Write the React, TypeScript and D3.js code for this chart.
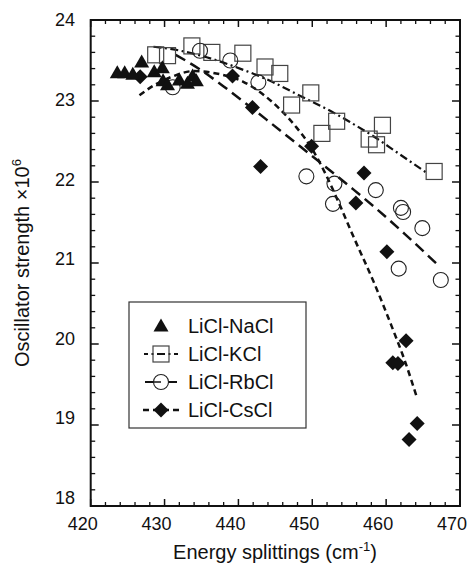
import React from 'react';
import * as d3 from 'd3';

type P = [number, number];

const seriesNames = ['LiCl-NaCl', 'LiCl-KCl', 'LiCl-RbCl', 'LiCl-CsCl'];

const naclPoints: P[] = [
  [423.6, 23.35], [424.6, 23.35], [425.7, 23.33], [426.9, 23.48], [428.6, 23.36],
  [429.7, 23.41], [429.8, 23.25], [430.4, 23.2], [432.0, 23.26], [433.1, 23.22],
  [433.8, 23.31], [434.3, 23.25],
];

const kclPoints: P[] = [
  [428.8, 23.57], [430.4, 23.56], [433.7, 23.68], [436.4, 23.6], [440.6, 23.59],
  [443.6, 23.42], [445.6, 23.34], [447.2, 22.95], [449.8, 23.1], [451.3, 22.6],
  [453.3, 22.75], [457.7, 22.53], [458.7, 22.46], [459.5, 22.7], [466.5, 22.13],
];

const rbclPoints: P[] = [
  [431.1, 23.17], [434.8, 23.62], [438.9, 23.5], [442.7, 23.23], [449.2, 22.07],
  [453.0, 21.98], [452.8, 21.73], [458.6, 21.9], [462.0, 21.68], [462.3, 21.63],
  [464.9, 21.43], [461.7, 20.93], [467.4, 20.79],
];

const csclPoints: P[] = [
  [426.7, 23.3], [439.2, 23.31], [441.9, 22.92], [443.0, 22.19], [449.9, 22.44],
  [457.0, 22.11], [455.9, 21.74], [460.1, 21.14], [462.7, 20.04], [460.9, 19.77],
  [461.6, 19.76], [464.2, 19.02], [463.1, 18.82],
];

const kclFit: P[] = [
  [428.5, 23.67], [431, 23.64], [435.7, 23.54], [440.2, 23.4], [444.5, 23.24],
  [448, 23.08], [452.6, 22.87], [455.1, 22.74], [458.7, 22.54], [461.4, 22.37],
  [465.7, 22.1],
];

const rbclFit: P[] = [
  [431.5, 23.57], [434.8, 23.39], [438, 23.18], [441, 22.97], [443.8, 22.77],
  [447.8, 22.48], [451.9, 22.18], [455, 21.95], [458.3, 21.7], [462.5, 21.36],
  [467.3, 20.95],
];

const csclFit: P[] = [
  [426.6, 23.07], [428.5, 23.19], [431, 23.3], [434, 23.37], [437, 23.34],
  [440.6, 23.24], [443.5, 23.07], [445.6, 22.9], [447.8, 22.68], [449.9, 22.42],
  [451.9, 22.08], [453.8, 21.7], [455.6, 21.32], [458.3, 20.77], [460.7, 20.23],
  [462.5, 19.8], [464.2, 19.33],
];

const xTicks = [420, 430, 440, 450, 460, 470];
const yTicks = [18, 19, 20, 21, 22, 23, 24];

const FONT = '"Liberation Sans", Arial, Helvetica, sans-serif';

const DASH_KCL = '8,3.5,2,3.5';
const DASH_RBCL = '11,6';
const DASH_CSCL = '6,4';

function tri(cx: number, cy: number) {
  return `M${cx},${cy - 7.5}L${cx + 7.5},${cy + 5.5}L${cx - 7.5},${cy + 5.5}Z`;
}
function dia(cx: number, cy: number) {
  return `M${cx},${cy - 7.5}L${cx + 7.5},${cy}L${cx},${cy + 7.5}L${cx - 7.5},${cy}Z`;
}

export default function App() {
  const W = 470;
  const H = 568;
  const left = 90.7, right = 460, top = 20, bottom = 506;
  const x = d3.scaleLinear().domain([420, 470]).range([left, right]);
  const y = d3.scaleLinear().domain([18, 24]).range([bottom, top]);

  const line = d3.line<P>().x(d => x(d[0])).y(d => y(d[1])).curve(d3.curveMonotoneX);

  const xMinor = d3.range(420, 470.001, 2).filter(v => !xTicks.includes(v));
  const yMinor = d3.range(0, 31).map(i => +(18 + i * 0.2).toFixed(2)).filter(v => !yTicks.includes(v));

  const tickStroke = '#111';
  const legRows = [326, 354, 382, 410];
  const legSymX = 161;

  return (
    <svg width={W} height={H} style={{ position: 'absolute', left: 0, top: 0, background: '#fff' }} fontFamily={FONT}>
      <rect x={0} y={0} width={W} height={H} fill="#fff" />

      {/* fit lines */}
      <path d={line(kclFit) || ''} fill="none" stroke="#111" strokeWidth={2.2} strokeDasharray={DASH_KCL} />
      <path d={line(rbclFit) || ''} fill="none" stroke="#111" strokeWidth={2.5} strokeDasharray={DASH_RBCL} />
      <path d={line(csclFit) || ''} fill="none" stroke="#111" strokeWidth={2.5} strokeDasharray={DASH_CSCL} />

      {/* KCl squares */}
      {kclPoints.map((d, i) => (
        <rect key={'k' + i} x={x(d[0]) - 8} y={y(d[1]) - 8} width={16} height={16} fill="none" stroke="#444" strokeWidth={1.2} />
      ))}
      {/* RbCl circles */}
      {rbclPoints.map((d, i) => (
        <circle key={'r' + i} cx={x(d[0])} cy={y(d[1])} r={7.5} fill="none" stroke="#222" strokeWidth={1.1} />
      ))}
      {/* CsCl diamonds */}
      {csclPoints.map((d, i) => (
        <path key={'c' + i} d={dia(x(d[0]), y(d[1]))} fill="#111" />
      ))}
      {/* NaCl triangles */}
      {naclPoints.map((d, i) => (
        <path key={'n' + i} d={tri(x(d[0]), y(d[1]))} fill="#111" />
      ))}

      {/* frame */}
      <rect x={left} y={top} width={right - left} height={bottom - top} fill="none" stroke="#111" strokeWidth={2} />

      {/* x ticks bottom & top */}
      {xTicks.map(v => (
        <g key={'xt' + v}>
          <line x1={x(v)} x2={x(v)} y1={bottom} y2={bottom - 7} stroke={tickStroke} strokeWidth={1.5} />
          <line x1={x(v)} x2={x(v)} y1={top} y2={top + 7} stroke={tickStroke} strokeWidth={1.5} />
          <text x={x(v) - 8} y={530} fontSize={18} textAnchor="middle" fill="#111">{v}</text>
        </g>
      ))}
      {xMinor.map(v => (
        <g key={'xm' + v}>
          <line x1={x(v)} x2={x(v)} y1={bottom} y2={bottom - 4} stroke={tickStroke} strokeWidth={1.3} />
          <line x1={x(v)} x2={x(v)} y1={top} y2={top + 4} stroke={tickStroke} strokeWidth={1.3} />
        </g>
      ))}

      {/* y ticks left & right */}
      {yTicks.map(v => (
        <g key={'yt' + v}>
          <line x1={left} x2={left + 8} y1={y(v)} y2={y(v)} stroke={tickStroke} strokeWidth={1.5} />
          <line x1={right} x2={right - 8} y1={y(v)} y2={y(v)} stroke={tickStroke} strokeWidth={1.5} />
          <text x={75} y={y(v) - 1.4 * (24 - v)} dy="0.35em" fontSize={18} textAnchor="end" fill="#111">{v}</text>
        </g>
      ))}
      {yMinor.map(v => (
        <g key={'ym' + v}>
          <line x1={left} x2={left + 4.5} y1={y(v)} y2={y(v)} stroke={tickStroke} strokeWidth={1.3} />
          <line x1={right} x2={right - 4.5} y1={y(v)} y2={y(v)} stroke={tickStroke} strokeWidth={1.3} />
        </g>
      ))}

      {/* axis titles */}
      <text x={275} y={559} fontSize={20} textAnchor="middle" fill="#111">
        Energy splittings (cm<tspan dy={-8} fontSize={13}>-1</tspan><tspan dy={8}>)</tspan>
      </text>
      <text transform={`translate(29,${(top + bottom) / 2}) rotate(-90)`} fontSize={20} textAnchor="middle" fill="#111">
        Oscillator strength ×10<tspan dy={-8} fontSize={13}>6</tspan>
      </text>

      {/* legend */}
      <rect x={129} y={302} width={177} height={126} fill="#fff" stroke="#333" strokeWidth={1.2} />
      {/* NaCl */}
      <path d={tri(legSymX, legRows[0])} fill="#111" />
      {/* KCl */}
      <line x1={144} x2={178} y1={legRows[1]} y2={legRows[1]} stroke="#111" strokeWidth={1.8} strokeDasharray={DASH_KCL} strokeDashoffset={4} />
      <rect x={legSymX - 8} y={legRows[1] - 8} width={16} height={16} fill="none" stroke="#444" strokeWidth={1.2} />
      {/* RbCl */}
      <line x1={145} x2={177} y1={legRows[2]} y2={legRows[2]} stroke="#111" strokeWidth={2} />
      <circle cx={legSymX} cy={legRows[2]} r={7.5} fill="#fff" stroke="#222" strokeWidth={1.1} />
      <line x1={legSymX - 7.5} x2={legSymX} y1={legRows[2]} y2={legRows[2]} stroke="#111" strokeWidth={1.5} />
      {/* CsCl */}
      <line x1={143} x2={179} y1={legRows[3]} y2={legRows[3]} stroke="#111" strokeWidth={2.5} strokeDasharray={DASH_CSCL} />
      <path d={dia(legSymX, legRows[3])} fill="#111" />
      {seriesNames.map((s, i) => (
        <text key={s} x={188} y={legRows[i] + 7} fontSize={20} fill="#111">{s}</text>
      ))}
    </svg>
  );
}
